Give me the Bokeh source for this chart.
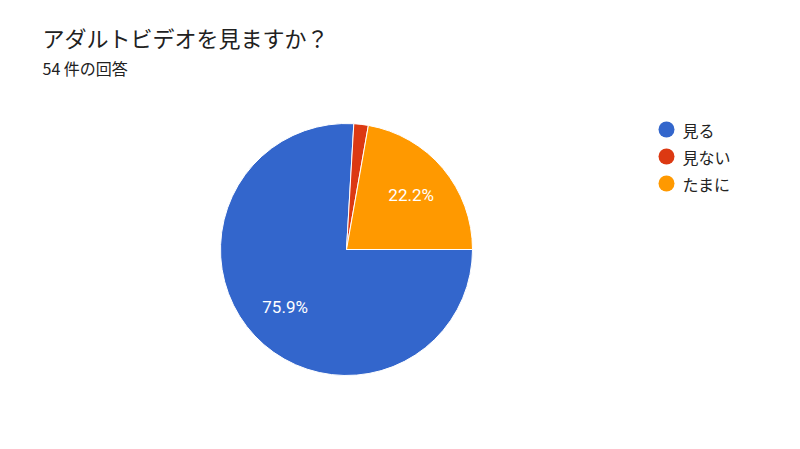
import math
from bokeh.plotting import figure
from bokeh.models import Range1d, ColumnDataSource
from bokeh.core.properties import value
from bokeh.embed import file_html
from bokeh.resources import INLINE

title_text = "アダルトビデオを見ますか？"
subtitle_text = "54 件の回答"
categories = ["見る", "見ない", "たまに"]
counts = [41, 1, 12]
colors = ["#3366CC", "#DC3912", "#FF9900"]

W, H = 784, 433
CX, CY, R = 346, H - 249, 126
JP = "Noto Sans CJK JP"

total = sum(counts)
starts, ends, labx, laby, labels = [], [], [], [], []
cum = 0.0
for c in counts:
    a0 = -2 * math.pi * cum / total
    cum += c
    a1 = -2 * math.pi * cum / total
    starts.append(a1)
    ends.append(a0)
    mid = (a0 + a1) / 2
    frac = c / total
    labx.append(CX + 0.67 * R * math.cos(mid))
    laby.append(CY + 0.67 * R * math.sin(mid))
    labels.append(f"{frac*100:.1f}%" if frac >= 0.05 else "")

src = ColumnDataSource(dict(start=starts, end=ends, color=colors,
                            lx=labx, ly=laby, lab=labels, cat=categories))

p = figure(width=W, height=H, output_backend="svg", toolbar_location=None,
           x_range=Range1d(0, W), y_range=Range1d(0, H), min_border=0)
p.axis.visible = False
p.grid.visible = False
p.outline_line_color = None
p.background_fill_color = "white"

p.wedge(x=CX, y=CY, radius=R, start_angle="start", end_angle="end",
        fill_color="color", line_color="white", line_width=1, source=src)

p.text(x="lx", y="ly", text="lab", source=src, text_color="white",
       text_font=value("Roboto"), text_font_size="17px",
       text_align="center", text_baseline="middle")

# title & subtitle
p.text(x=[42], y=[H - 36], text=[title_text], text_font=value(JP),
       text_font_size="22px", text_color="#212121", text_baseline="middle")
p.text(x=[42], y=[H - 67], text=[subtitle_text], text_font=value(JP),
       text_font_size="16px", text_color="#212121", text_baseline="middle")

# legend
ly0, step = H - 129, 27
leg_y = [ly0 - i * step for i in range(len(categories))]
p.scatter(x=[666] * len(categories), y=leg_y, size=16, marker="circle",
          fill_color=colors, line_color=None)
p.text(x=[682] * len(categories), y=leg_y, text=categories, text_font=value(JP),
       text_font_size="16px", text_color="#222222", text_baseline="middle")

open("out.html", "w").write(file_html(p, INLINE))
